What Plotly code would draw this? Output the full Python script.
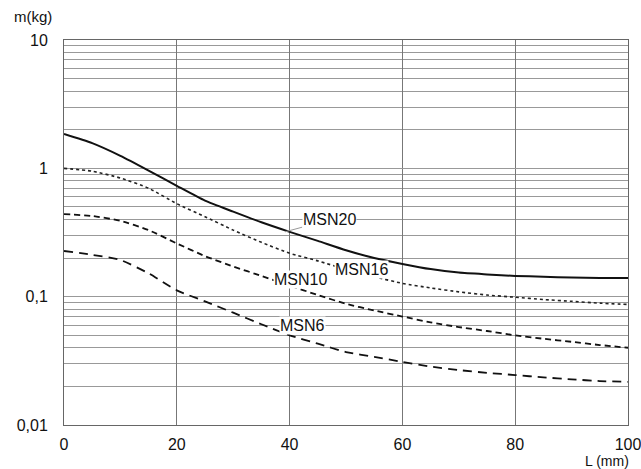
import math
import plotly.graph_objects as go

L = [0, 5, 10, 15, 20, 25, 30, 35, 40, 45, 50, 55, 60, 65, 70, 75, 80, 85, 90, 95, 100]
msn20 = [1.85, 1.57, 1.25, 0.96, 0.73, 0.56, 0.46, 0.38, 0.32, 0.272, 0.23, 0.2, 0.18, 0.164, 0.154, 0.149, 0.145, 0.143, 0.141, 0.140, 0.140]
msn16 = [1.0, 0.95, 0.84, 0.70, 0.53, 0.42, 0.33, 0.265, 0.218, 0.19, 0.163, 0.143, 0.127, 0.117, 0.109, 0.103, 0.099, 0.095, 0.092, 0.089, 0.087]
msn10 = [0.44, 0.425, 0.39, 0.33, 0.26, 0.207, 0.172, 0.145, 0.122, 0.103, 0.088, 0.078, 0.070, 0.063, 0.058, 0.054, 0.050, 0.047, 0.0445, 0.042, 0.040]
msn6 = [0.227, 0.212, 0.193, 0.152, 0.112, 0.092, 0.075, 0.061, 0.050, 0.043, 0.037, 0.034, 0.031, 0.0285, 0.0268, 0.0255, 0.0245, 0.0235, 0.0227, 0.022, 0.0217]

series_names = ["MSN20", "MSN16", "MSN10", "MSN6"]
y_tickvals = [0.01, 0.1, 1, 10]
y_ticktext = ["0,01", "0,1", "1", "10"]
x_tickvals = [0, 20, 40, 60, 80, 100]
y_minor = [m * 10 ** e for e in (-2, -1, 0) for m in range(2, 10)]

FONT = "Liberation Sans, Arial, sans-serif"

fig = go.Figure()
styles = [
    dict(color="#111", width=2, dash="solid"),
    dict(color="#222", width=1.6, dash="dot"),
    dict(color="#111", width=1.8, dash="6px,4px"),
    dict(color="#111", width=1.8, dash="9px,6px"),
]
for name, ys, st in zip(series_names, [msn20, msn16, msn10, msn6], styles):
    fig.add_trace(go.Scatter(x=L, y=ys, mode="lines", name=name,
                             line=dict(shape="spline", smoothing=0.6, **st),
                             showlegend=False, hoverinfo="skip"))

# curve labels (log axis -> annotation y in log10 units)
fig.add_annotation(x=39.2, y=math.log10(0.32), ax=44, ay=-12, text="MSN20", showarrow=True,
                   arrowhead=0, arrowwidth=1, arrowcolor="#999",
                   bgcolor="white", font=dict(size=16, color="#111", family=FONT), borderpad=0)
label_pos = [("MSN16", 52.8, 0.162), ("MSN10", 41.9, 0.136), ("MSN6", 42.2, 0.060)]
for t, lx, ly in label_pos:
    fig.add_annotation(x=lx, y=math.log10(ly), text=t, showarrow=False, bgcolor="white",
                       font=dict(size=16, color="#111", family=FONT), borderpad=0)

fig.add_annotation(xref="paper", yref="paper", x=-0.055, y=1.035, xanchor="center", yanchor="bottom",
                   text="m(kg)", showarrow=False, font=dict(size=15, color="#111", family=FONT))
fig.add_annotation(xref="paper", yref="paper", x=1.005, y=-0.093, xanchor="right", yanchor="middle",
                   text="L (mm)", showarrow=False, font=dict(size=14, color="#111", family=FONT))

fig.update_layout(
    width=641, height=469,
    margin=dict(l=64, r=13, t=40, b=44, autoexpand=False),
    paper_bgcolor="white", plot_bgcolor="white",
    font=dict(family=FONT, size=16, color="#111"),
    xaxis=dict(range=[0, 100], tickvals=x_tickvals, showgrid=True, gridcolor="#777", gridwidth=1,
               showline=True, linecolor="#666", linewidth=1, mirror=True, zeroline=False,
               ticks="", ticklen=0, tickfont=dict(size=16), ticklabeloverflow="allow",
               automargin=False, ticklabelstandoff=5),
    yaxis=dict(type="log", range=[-2, 1], tickvals=y_tickvals, ticktext=y_ticktext,
               showgrid=True, gridcolor="#999", gridwidth=1,
               showline=True, linecolor="#666", linewidth=1, mirror=True, zeroline=False,
               ticks="", tickfont=dict(size=16), automargin=False, ticklabelstandoff=12,
               minor=dict(tickmode="array", tickvals=y_minor, showgrid=True, gridcolor="#999",
                          gridwidth=1, ticks="")),
)

fig.write_html("out.html")
